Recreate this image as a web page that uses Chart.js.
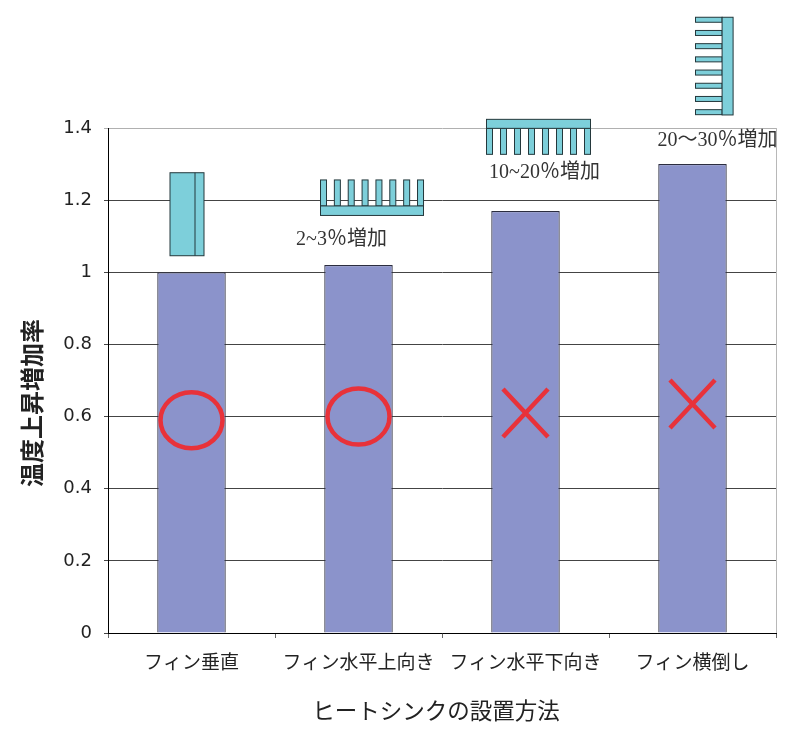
<!DOCTYPE html>
<html lang="ja">
<head>
<meta charset="utf-8">
<title>ヒートシンクの設置方法と温度上昇増加率</title>
<script src="https://cdn.jsdelivr.net/npm/chart.js@4.4.1/dist/chart.umd.min.js"></script>
<style>
    html, body { margin: 0; padding: 0; background: #fff; }
    #wrap { width: 800px; height: 755px; }
</style>
</head>
<body>
<div id="wrap"><canvas id="myChart" width="800" height="755"></canvas></div>
<script>
const categories = ['フィン垂直', 'フィン水平上向き', 'フィン水平下向き', 'フィン横倒し']
const rise_rate = [1.0, 1.02, 1.17, 1.30]
const y_ticks = [0, 0.2, 0.4, 0.6, 0.8, 1, 1.2, 1.4]
const y_tick_labels = ['0', '0.2', '0.4', '0.6', '0.8', '1', '1.2', '1.4']

// OK / NG marks on each bar
const judge = ['circle', 'circle', 'cross', 'cross']
const judge_level = [0.59, 0.60, 0.61, 0.635]

// increase notes next to the heatsink pictures
const notes = ['', '2~3％増加', '10~20％増加', '20～30％増加']
const note_level = [0, 1.09, 1.275, 1.364]
const note_shift = [0, -17, 19, 25]

// heatsink pictures: kind, top level, shift from bar centre
const sink_kind = ['vertical', 'up', 'down', 'side']
const sink_top = [1.276, 1.256, 1.424, 1.707]
const sink_shift = [-4.5, 13.5, 13, 22]

const RED = '#e8323a'
const SINK_FILL = '#7dcfda'
const SINK_LINE = '#24383c'

function sinkRect(c, x, y, w, h) {
    c.fillRect(x, y, w, h)
    c.strokeRect(x, y, w, h)
}

function drawSink(c, kind, cx, top) {
    c.fillStyle = SINK_FILL
    c.strokeStyle = SINK_LINE
    c.lineWidth = 1
    if (kind === 'vertical') {
        const x0 = cx - 17
        sinkRect(c, x0, top, 34, 83)
        c.beginPath()
        c.moveTo(x0 + 25, top)
        c.lineTo(x0 + 25, top + 83)
        c.stroke()
    } else if (kind === 'up') {
        const x0 = cx - 51.5
        for (let i = 0; i < 8; i++) sinkRect(c, x0 + i * 13.86, top, 6, 26)
        sinkRect(c, x0, top + 26, 103, 9.5)
    } else if (kind === 'down') {
        const x0 = cx - 52
        for (let i = 0; i < 8; i++) sinkRect(c, x0 + i * 14, top + 9, 6, 26)
        sinkRect(c, x0, top, 104, 9)
    } else if (kind === 'side') {
        const x0 = cx - 19
        for (let i = 0; i < 8; i++) sinkRect(c, x0, top + i * 13.2, 26.6, 5)
        sinkRect(c, x0 + 26.6, top, 11, 97.7)
    }
}

const decorations = {
    id: 'decorations',
    afterDatasetsDraw(chart) {
        const c = chart.ctx
        const xs = chart.scales.x
        const ys = chart.scales.y
        const area = chart.chartArea
        c.save()

        // right frame line
        c.strokeStyle = '#b8b8b8'
        c.lineWidth = 1
        c.beginPath()
        c.moveTo(area.right + 0.5, area.top)
        c.lineTo(area.right + 0.5, area.bottom)
        c.stroke()

        categories.forEach((cat, i) => {
            const cx = xs.getPixelForValue(i)

            // circle / cross
            const my = ys.getPixelForValue(judge_level[i])
            c.strokeStyle = RED
            c.lineWidth = 4.5
            c.beginPath()
            if (judge[i] === 'circle') {
                c.ellipse(cx, my, 31, 28, 0, 0, Math.PI * 2)
            } else {
                c.moveTo(cx - 22.5, my - 24)
                c.lineTo(cx + 22.5, my + 24)
                c.moveTo(cx + 22.5, my - 24)
                c.lineTo(cx - 22.5, my + 24)
            }
            c.stroke()

            drawSink(c, sink_kind[i], cx + sink_shift[i], ys.getPixelForValue(sink_top[i]))

            if (notes[i]) {
                c.fillStyle = '#333'
                c.font = '20px "Liberation Serif", "Noto Sans CJK JP", serif'
                c.textAlign = 'center'
                c.textBaseline = 'middle'
                c.fillText(notes[i], cx + note_shift[i], ys.getPixelForValue(note_level[i]))
            }
        })

        // axis titles
        c.fillStyle = '#222'
        c.textAlign = 'center'
        c.textBaseline = 'middle'
        c.font = '22.5px "Noto Sans CJK JP", sans-serif'
        c.fillText('ヒートシンクの設置方法', (area.left + area.right) / 2 - 6, area.bottom + 77)

        c.translate(32, 403)
        c.rotate(-Math.PI / 2)
        c.font = 'bold 24px "Noto Sans CJK JP", sans-serif'
        c.fillText('温度上昇増加率', 0, 0)
        c.restore()
    }
}

const ctx = document.getElementById('myChart')

new Chart(ctx, {
    type: 'bar',
    data: {
        labels: categories,
        datasets: [{
            data: rise_rate,
            backgroundColor: '#8b93cb',
            borderColor: '#2b2d40',
            borderWidth: 1.2,
            barPercentage: 0.41,
            categoryPercentage: 1.0
        }]
    },
    options: {
        responsive: false,
        animation: false,
        layout: { padding: { top: 128, right: 24, left: 0, bottom: 0 } },
        plugins: {
            legend: { display: false },
            tooltip: { enabled: false }
        },
        scales: {
            x: {
                afterFit: (scale) => { scale.height = 122 },
                border: { color: '#000', width: 1 },
                grid: {
                    drawOnChartArea: false,
                    offset: true,
                    tickLength: 5,
                    color: '#666'
                },
                ticks: {
                    color: '#222',
                    padding: 12,
                    font: { family: '"Noto Sans CJK JP", sans-serif', size: 19 }
                }
            },
            y: {
                min: 0,
                max: 1.4,
                afterFit: (scale) => { scale.width = 108 },
                afterBuildTicks: (scale) => {
                    scale.ticks = y_ticks.map(v => ({ value: v }))
                },
                border: { color: '#000', width: 1 },
                grid: {
                    color: (c) => (c.tick && c.tick.value === 1.4) ? '#b0b0b0' : '#444',
                    tickLength: 4
                },
                ticks: {
                    color: '#222',
                    padding: 12,
                    font: { family: '"DejaVu Sans", sans-serif', size: 18 },
                    callback: (value, index) => y_tick_labels[index]
                }
            }
        }
    },
    plugins: [decorations]
});
</script>
</body>
</html>
